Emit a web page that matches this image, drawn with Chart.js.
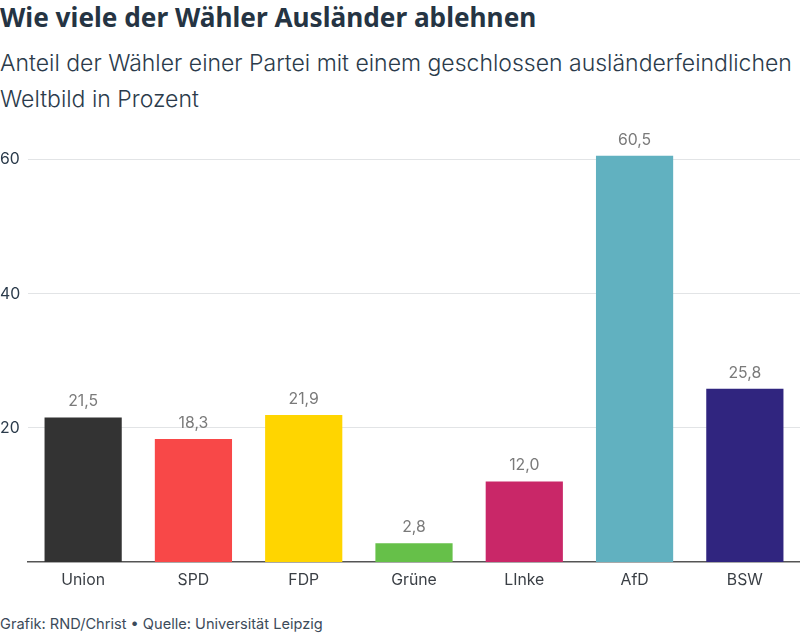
<!DOCTYPE html>
<html lang="de">
<head>
<meta charset="utf-8">
<script src="https://cdn.jsdelivr.net/npm/chart.js@4.4.0/dist/chart.umd.min.js"></script>
<style>
  html, body { margin: 0; padding: 0; background: #fff; width: 800px; height: 634px; overflow: hidden; }
  body { font-family: Inter, sans-serif; position: relative; }
  h1 { position: absolute; left: 0; top: 0; margin: 0; font: 700 26.2px/34px "Noto Sans", sans-serif; color: #253443; white-space: nowrap; }
  h2 { position: absolute; left: 0; top: 45px; margin: 0; font: 300 23px/36px Inter, sans-serif; color: #2b3b4b; white-space: nowrap; }
  #chart { position: absolute; left: 0; top: 120px; }
  #foot { position: absolute; left: 0; top: 615px; font: 400 14.6px/18px Inter, sans-serif; color: #3c4b5a; white-space: nowrap; }
</style>
</head>
<body>
<h1>Wie viele der Wähler Ausländer ablehnen</h1>
<h2>Anteil der Wähler einer Partei mit einem geschlossen ausländerfeindlichen<br>Weltbild in Prozent</h2>
<canvas id="chart" width="800" height="480"></canvas>
<div id="foot">Grafik: RND/Christ • Quelle: Universität Leipzig</div>
<script>
const categories = ["Union", "SPD", "FDP", "Grüne", "LInke", "AfD", "BSW"];
const values = [21.5, 18.3, 21.9, 2.8, 12.0, 60.5, 25.8];
const barColors = ["#333333", "#f84848", "#ffd500", "#66c049", "#c92768", "#61b1c0", "#30257f"];
const yTicks = [20, 40, 60];

// Wert über jedem Balken, mit Komma
const valueLabels = {
  id: "valueLabels",
  afterDatasetsDraw(chart) {
    const ctx = chart.ctx;
    ctx.save();
    ctx.font = "400 15.8px Inter, sans-serif";
    ctx.fillStyle = "#7a7a7a";
    ctx.textAlign = "center";
    ctx.textBaseline = "bottom";
    chart.getDatasetMeta(0).data.forEach((bar, i) => {
      ctx.fillText(values[i].toFixed(1).replace(".", ","), bar.x, bar.y - 8);
    });
    ctx.restore();
  }
};

// y-Beschriftung steht links direkt neben den Gitterlinien
const yLabels = {
  id: "yLabels",
  afterDraw(chart) {
    const ctx = chart.ctx, y = chart.scales.y;
    ctx.save();
    ctx.font = "400 15.8px Inter, sans-serif";
    ctx.fillStyle = "#2b3b4b";
    ctx.textBaseline = "middle";
    yTicks.forEach(v => ctx.fillText(String(v), 0, y.getPixelForValue(v) + 0.5));
    ctx.restore();
  }
};

new Chart(document.getElementById("chart").getContext("2d"), {
  type: "bar",
  data: {
    labels: categories,
    datasets: [{ data: values, backgroundColor: barColors, categoryPercentage: 0.7, barPercentage: 1 }]
  },
  options: {
    responsive: false,
    animation: false,
    layout: { padding: { left: 28, top: 5.5, right: 0, bottom: 0 } },
    plugins: { legend: { display: false }, tooltip: { enabled: false } },
    scales: {
      x: {
        afterFit(axis) { axis.height = 38; },
        grid: { display: false, drawTicks: false },
        border: { color: "#555555", width: 1.5 },
        ticks: { color: "#3a3f45", font: { family: "Inter", size: 15.8 }, padding: 9, maxRotation: 0, autoSkip: false }
      },
      y: {
        min: 0,
        max: 65,
        afterFit(axis) { axis.width = 0; },
        afterBuildTicks(axis) { axis.ticks = yTicks.map(v => ({ value: v })); },
        grid: { color: "#e2e4e6", drawTicks: false },
        border: { display: false },
        ticks: { display: false }
      }
    }
  },
  plugins: [valueLabels, yLabels]
});
</script>
</body>
</html>
